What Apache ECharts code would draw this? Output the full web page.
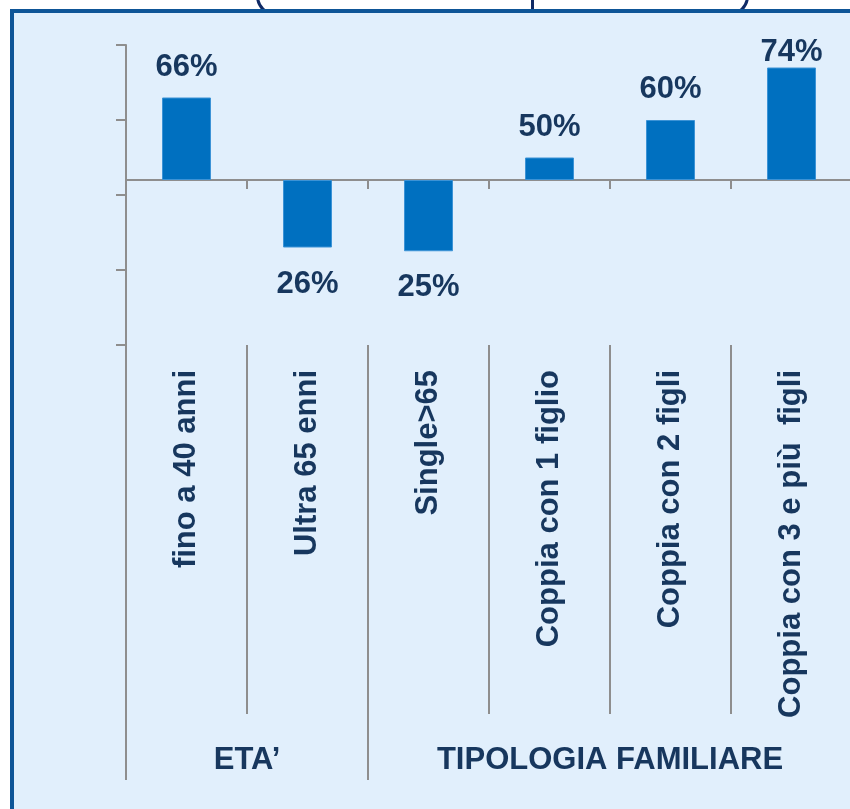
<!DOCTYPE html>
<html>
<head>
<meta charset="utf-8">
<script src="https://cdn.jsdelivr.net/npm/echarts@6/dist/echarts.min.js"></script>
<style>
  html, body { margin: 0; padding: 0; background: #ffffff; overflow: hidden; }
  #frame { position: relative; width: 850px; height: 809px; overflow: hidden; }
  .tab { position: absolute; top: -70px; height: 86px; border: 3px solid #0f2a66; box-sizing: border-box; }
  #panel { position: absolute; left: 10px; top: 9px; width: 860px; height: 820px;
           background: #e1effc; border-top: 4px solid #0e5597; border-left: 4px solid #0e5597; }
  #chart { position: absolute; left: 0; top: 0; width: 850px; height: 809px; }
</style>
</head>
<body>
<div id="frame">
  <div class="tab" style="left:256px; width:278px; border-radius: 0 0 0 20px;"></div>
  <div class="tab" style="left:531px; width:218px; border-radius: 0 0 20px 0;"></div>
  <div id="panel"></div>
  <div id="chart"></div>
</div>
<script>
    // categories and values
    var categories = ["fino a 40 anni", "Ultra 65 enni", "Single>65", "Coppia con 1 figlio", "Coppia con 2 figli", "Coppia con 3 e più  figli"];
    var values = [66, 26, 25, 50, 60, 74];
    var base = 44;                    // bars start from this level
    var yTicks = [0, 20, 40, 60, 80]; // unlabelled ticks on the value axis
    var groups = ["ETA’", "TIPOLOGIA FAMILIARE"];
    var groupBounds = [0, 2, 6];      // category index where each group starts / ends

    var navy = "#17375e";
    var grey = "#8e8e8e";
    var font = "'Liberation Sans', Arial, sans-serif";

    var groupCenters = [];
    for (var i = 0; i < groups.length; i++) {
        groupCenters.push((groupBounds[i] + groupBounds[i + 1]) / 2);
    }

    var maxValue = Math.max.apply(null, values);
    var barData = values.map(function (v) {
        var up = v >= base;
        return {
            value: v - base,
            label: {
                position: up ? "top" : "bottom",
                // the tallest label sits right on its bar, as in the original slide
                distance: v === maxValue ? 0 : (up ? 15 : 21)
            }
        };
    });

    var option = {
        animation: false,
        backgroundColor: "transparent",
        // the plot runs past the right edge of the picture
        grid: {left: 126, top: 45, width: 726, height: 300, outerBoundsMode: "none"},
        xAxis: [
            {
                type: "category",
                data: categories,
                axisLine: {onZero: true, lineStyle: {color: grey, width: 2}},
                axisTick: {show: true, interval: 0, length: 9, lineStyle: {color: grey, width: 2}},
                axisLabel: {show: false}
            },
            {
                type: "category",
                data: categories,
                position: "bottom",
                axisLine: {show: false, onZero: false},
                axisTick: {show: true, interval: 0, length: 369, lineStyle: {color: grey, width: 2}},
                axisLabel: {
                    interval: 0,
                    rotate: 90,
                    margin: 25,
                    color: navy,
                    fontFamily: font,
                    fontWeight: "bold",
                    fontSize: 31
                }
            },
            {
                type: "value",
                min: groupBounds[0],
                max: groupBounds[groupBounds.length - 1],
                position: "bottom",
                splitLine: {show: false},
                axisLine: {show: false, onZero: false},
                axisTick: {show: true, customValues: groupBounds.slice(0, -1), length: 435, lineStyle: {color: grey, width: 2}},
                axisLabel: {
                    customValues: groupCenters,
                    formatter: function (v) {
                        return groups[groupCenters.indexOf(v)];
                    },
                    margin: 400,
                    color: navy,
                    fontFamily: font,
                    fontWeight: "bold",
                    fontSize: 31
                }
            }
        ],
        yAxis: {
            type: "value",
            min: yTicks[0] - base,
            max: yTicks[yTicks.length - 1] - base,
            splitLine: {show: false},
            axisLine: {show: true, lineStyle: {color: grey, width: 2}},
            axisTick: {
                show: true,
                customValues: yTicks.map(function (t) { return t - base; }),
                length: 10,
                lineStyle: {color: grey, width: 2}
            },
            axisLabel: {show: false}
        },
        series: [{
            type: "bar",
            xAxisIndex: 0,
            yAxisIndex: 0,
            barWidth: 49,
            data: barData,
            itemStyle: {color: "#0070c0", borderColor: "#3c93d6", borderWidth: 1},
            label: {
                show: true,
                color: navy,
                fontFamily: font,
                fontWeight: "bold",
                fontSize: 31,
                formatter: function (p) {
                    return values[p.dataIndex] + "%";
                }
            }
        }]
    };

    var chart = echarts.init(document.getElementById("chart"));
    chart.setOption(option);
</script>
</body>
</html>
